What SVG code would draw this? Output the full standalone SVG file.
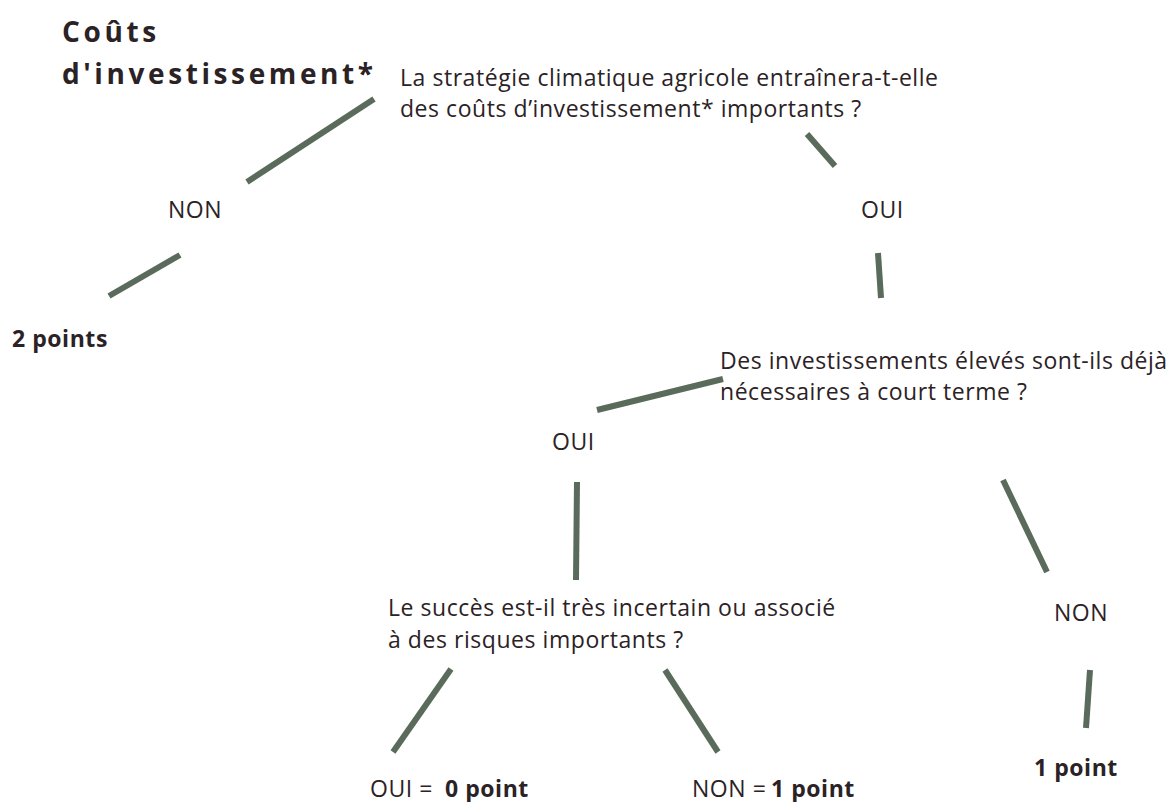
<svg xmlns="http://www.w3.org/2000/svg" width="1173" height="802" viewBox="0 0 1173 802">
<style>
text{font-family:"Open Sans","Noto Sans","Liberation Sans",sans-serif;fill:#2b2226;font-size:23px;letter-spacing:0.55px}
.b{font-weight:bold}
.t{font-weight:bold;font-size:28px;letter-spacing:3.6px}
.c line{stroke:#5b6b5b;stroke-width:6}
</style>
<rect width="1173" height="802" fill="#fff"/>
<g id="title"><text class="t" x="62" y="42">Coûts</text><text class="t" x="62" y="84">d'investissement*</text></g>
<g id="q1"><text x="400" y="86">La stratégie climatique agricole entraînera-t-elle</text><text x="400" y="117">des coûts d’investissement* importants ?</text></g>
<g id="non1"><text x="168" y="218">NON</text></g>
<g id="oui1"><text x="861" y="218">OUI</text></g>
<g id="r2points"><text class="b" x="12" y="347">2 points</text></g>
<g id="q2"><text x="720" y="369">Des investissements élevés sont-ils déjà</text><text x="720" y="400">nécessaires à court terme ?</text></g>
<g id="oui2"><text x="552" y="450">OUI</text></g>
<g id="non2"><text x="1054" y="621">NON</text></g>
<g id="q3"><text x="388" y="616">Le succès est-il très incertain ou associé</text><text x="388" y="648">à des risques importants ?</text></g>
<g id="r0"><text x="370" y="797">OUI = <tspan class="b" x="445">0 point</tspan></text></g>
<g id="r1a"><text x="692" y="797">NON =<tspan class="b" x="771">1 point</tspan></text></g>
<g id="r1b"><text class="b" x="1034" y="776">1 point</text></g>
<g class="c" id="connectors">
<line x1="374" y1="99" x2="247" y2="182"/>
<line x1="180" y1="255" x2="109" y2="296"/>
<line x1="807" y1="134" x2="835" y2="166"/>
<line x1="878" y1="253" x2="881" y2="298"/>
<line x1="723" y1="379" x2="597" y2="410"/>
<line x1="577" y1="482" x2="576" y2="580"/>
<line x1="1003" y1="480" x2="1047" y2="572"/>
<line x1="1090" y1="670" x2="1086" y2="728"/>
<line x1="451" y1="669" x2="393" y2="752"/>
<line x1="665" y1="670" x2="718" y2="752"/>
</g>
</svg>
